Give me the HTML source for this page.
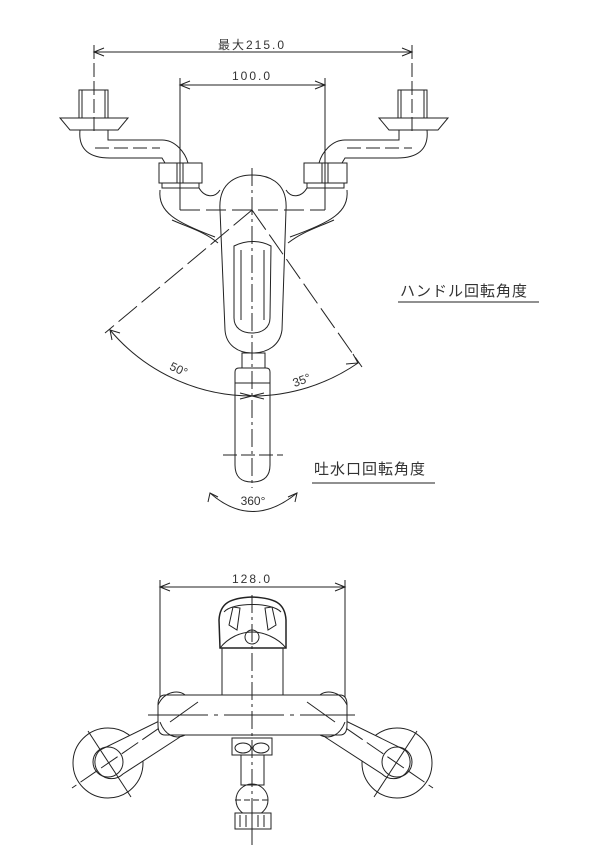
<!DOCTYPE html>
<html><head><meta charset="utf-8"><style>
html,body{margin:0;padding:0;background:#fff;width:600px;height:850px;overflow:hidden}
svg{display:block}
text{font-family:"Liberation Sans","Noto Sans CJK JP",sans-serif;fill:#333}
</style></head><body>
<svg width="600" height="850" viewBox="0 0 600 850" fill="none" stroke="#222" stroke-width="1">
<!-- ===== TOP VIEW ===== -->
<line x1="94" y1="52" x2="412" y2="52"/>
<polyline points="104,48 94,52 104,56"/><polyline points="402,48 412,52 402,56"/>
<line x1="94" y1="45" x2="94" y2="135" stroke-dasharray="14,4"/>
<line x1="412" y1="45" x2="412" y2="135" stroke-dasharray="14,4"/>
<text x="252" y="49" font-size="12" text-anchor="middle" stroke="none" letter-spacing="2">最大215.0</text>
<line x1="180" y1="85" x2="325" y2="85"/>
<polyline points="190,81 180,85 190,89"/><polyline points="315,81 325,85 315,89"/>
<line x1="180" y1="78" x2="180" y2="210"/><line x1="325" y1="78" x2="325" y2="210"/>
<line x1="180" y1="210" x2="325" y2="210" stroke-dasharray="20,6"/>
<text x="252" y="80" font-size="12" text-anchor="middle" stroke="none" letter-spacing="2">100.0</text>
<!-- left supply -->
<rect x="79" y="90" width="29" height="28"/>
<line x1="82" y1="90" x2="82" y2="118"/><line x1="105" y1="90" x2="105" y2="118"/>
<polygon points="60,118 128,118 118,130 70,130"/>
<path d="M80,130 C78,150 90,158 110,158 L162,158 L165,163"/>
<path d="M108,130 L108,140 L162,140"/>
<line x1="95" y1="148" x2="160" y2="148" stroke-dasharray="14,5"/>
<path d="M162,140 C175,140 185,152 188,163"/>
<rect x="159" y="163" width="43" height="20"/>
<rect x="177" y="163" width="6" height="20"/>
<rect x="162" y="183" width="37" height="5"/>
<!-- right supply -->
<rect x="398" y="90" width="29" height="28"/>
<line x1="401" y1="90" x2="401" y2="118"/><line x1="424" y1="90" x2="424" y2="118"/>
<polygon points="379,118 448,118 438,130 389,130"/>
<path d="M427,130 C429,150 417,158 397,158 L345,158 L342,163"/>
<path d="M399,130 L399,140 L345,140"/>
<line x1="347" y1="148" x2="412" y2="148" stroke-dasharray="14,5"/>
<path d="M345,140 C332,140 322,152 319,163"/>
<rect x="304" y="163" width="43" height="20"/>
<rect x="322" y="163" width="6" height="20"/>
<rect x="307" y="183" width="37" height="5"/>
<!-- body -->
<path d="M160,190 C158,212 175,222 215,237"/>
<path d="M347,190 C349,212 332,222 290,237"/>
<path d="M172,220 C190,228 205,232 218,243"/>
<path d="M334,220 C316,228 302,232 288,243"/>
<path d="M199,188 C205,198 215,198 220,190"/>
<path d="M307,188 C301,198 291,198 286,190"/>
<!-- handle -->
<path d="M220,210 C218,180 240,175 252,175 C266,175 288,180 286,210 L282,330 C280,345 268,353 252,353 C238,353 226,345 225,330 Z"/>
<path d="M234,246 C246,240 260,240 271,246 L270,318 C270,328 262,333 252,333 C242,333 234,328 234,318 Z"/>
<line x1="241" y1="250" x2="241" y2="320"/><line x1="264" y1="250" x2="264" y2="320"/>
<rect x="242" y="353" width="23" height="15"/>
<path d="M235,372 Q235,368 239,368 L266,368 Q270,368 270,372 L270,465 C270,478 262,482 252,482 C242,482 235,478 235,465 Z"/>
<line x1="235" y1="383" x2="270" y2="383"/>
<line x1="252" y1="168" x2="252" y2="488" stroke-dasharray="18,4,3,4"/>
<line x1="223" y1="455" x2="283" y2="455" stroke-dasharray="14,4"/>
<line x1="252" y1="210" x2="105" y2="333" stroke-dasharray="24,6"/>
<line x1="252" y1="210" x2="362" y2="367" stroke-dasharray="24,6"/>
<path d="M110,330 A186,186 0 0 0 252,396 A186,186 0 0 0 358,363"/>
<polyline points="112,340 110,330 120,333"/><polyline points="346,364 358,363 353,354"/>
<polyline points="240,393 252,396 240,399"/><polyline points="264,393 252,396 264,399"/>
<text x="177" y="373" font-size="12" stroke="none" text-anchor="middle" transform="rotate(25 177 373)">50°</text>
<text x="303" y="384" font-size="12" stroke="none" text-anchor="middle" transform="rotate(-20 303 384)">35°</text>
<path d="M210,493 Q252,530 297,493"/>
<polyline points="208,502 210,493 218,497"/><polyline points="288,497 297,493 295,502"/>
<text x="253" y="505" font-size="12" stroke="none" text-anchor="middle">360°</text>
<text x="400" y="296" font-size="15" stroke="none" letter-spacing="1">ハンドル回転角度</text>
<line x1="398" y1="302" x2="539" y2="302"/>
<text x="314" y="474" font-size="15" stroke="none" letter-spacing="1">吐水口回転角度</text>
<line x1="312" y1="483" x2="435" y2="483"/>

<!-- ===== BOTTOM VIEW ===== -->
<line x1="160" y1="587" x2="345" y2="587"/>
<polyline points="170,583 160,587 170,591"/><polyline points="335,583 345,587 335,591"/>
<line x1="160" y1="580" x2="160" y2="700"/><line x1="345" y1="580" x2="345" y2="700"/>
<text x="252" y="583" font-size="12" text-anchor="middle" stroke="none" letter-spacing="2">128.0</text>
<path d="M220,648 L219,620 C220,603 230,598 252,597 C275,598 285,603 286,620 L286,648 Z" stroke-width="1.5"/>
<path d="M224,612 C232,602 272,602 281,612"/>
<path d="M233,607 L229,625 L237,630 L240,608 Z"/><path d="M272,607 L276,625 L268,630 L265,608 Z"/>
<path d="M220,648 C228,638 240,632 252,632 C264,632 278,638 286,648"/>
<circle cx="252" cy="637" r="7"/>
<rect x="222" y="648" width="61" height="47"/>
<!-- circles & arms -->
<circle cx="108" cy="763" r="35" fill="#fff"/><circle cx="397" cy="763" r="35" fill="#fff"/>
<path d="M198,702 L100,750 A15,15 0 0 0 123,774 L180,737" fill="#fff"/>
<path d="M307,702 L405,750 A15,15 0 0 1 382,774 L325,737" fill="#fff"/>
<circle cx="108" cy="762" r="15"/><circle cx="397" cy="762" r="15"/>
<line x1="88" y1="731" x2="131" y2="797"/>
<line x1="417" y1="731" x2="374" y2="797"/>
<line x1="200" y1="700" x2="72" y2="788" stroke-dasharray="20,5"/>
<line x1="305" y1="700" x2="433" y2="788" stroke-dasharray="20,5"/>
<!-- body bar -->
<path d="M165,695 L340,695 Q347,695 347,705 L347,725 Q347,735 340,735 L165,735 Q158,735 158,725 L158,705 Q158,695 165,695 Z" fill="#fff"/>
<path d="M158,705 C165,690 180,690 185,695"/><path d="M347,705 C340,690 325,690 320,695"/>
<path d="M160,722 C165,735 175,740 185,735"/><path d="M345,722 C340,735 330,740 320,735"/>
<line x1="148" y1="715" x2="355" y2="715" stroke-dasharray="60,6,4,6"/>
<line x1="198" y1="702" x2="170" y2="722"/><line x1="307" y1="702" x2="335" y2="722"/>
<rect x="232" y="738" width="40" height="17"/>
<ellipse cx="243" cy="748" rx="8" ry="5"/><ellipse cx="261" cy="748" rx="8" ry="5"/>
<rect x="241" y="755" width="23" height="30"/>
<circle cx="252" cy="800" r="16"/>
<rect x="235" y="813" width="36" height="16" fill="#fff"/>
<line x1="240" y1="815" x2="240" y2="827"/><line x1="246" y1="815" x2="246" y2="827"/><line x1="252" y1="815" x2="252" y2="827"/><line x1="258" y1="815" x2="258" y2="827"/><line x1="264" y1="815" x2="264" y2="827"/>
<line x1="252" y1="595" x2="252" y2="845" stroke-dasharray="18,4,3,4"/>
<line x1="235" y1="800" x2="270" y2="800" stroke-dasharray="6,3"/>
</svg>
</body></html>
